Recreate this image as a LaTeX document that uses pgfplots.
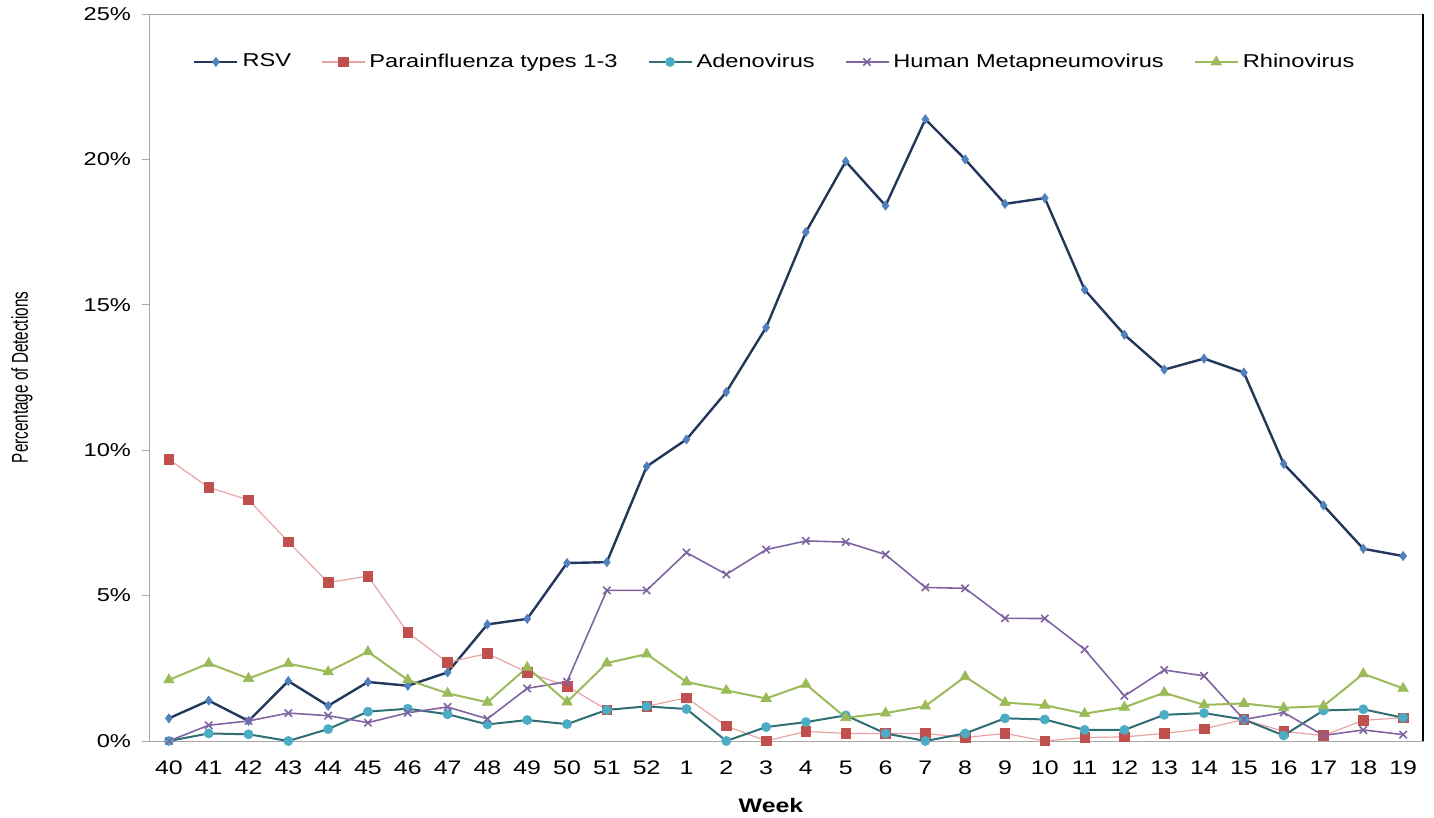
\documentclass[border=0pt]{standalone}
\usepackage{fontspec}
\setmainfont[FakeStretch=1.27]{Liberation Sans}
\newfontfamily\plainf{Liberation Sans}
\usepackage{graphicx}
\usepackage{pgfplots}
\pgfplotsset{compat=1.18}
\definecolor{rsvline}{HTML}{22375A}
\definecolor{rsvmark}{HTML}{4F81BD}
\definecolor{paraline}{HTML}{E8A4A4}
\definecolor{paramark}{HTML}{C0504D}
\definecolor{adenoline}{HTML}{2F6E74}
\definecolor{adenomark}{HTML}{4BACC6}
\definecolor{hmpv}{HTML}{8064A2}
\definecolor{rhino}{HTML}{9BBB59}
\definecolor{axgray}{HTML}{A6A6A6}
\begin{document}
\begin{tikzpicture}
\begin{axis}[
  width=637pt, height=363.5pt, scale only axis,
  xmin=-0.5, xmax=31.5, ymin=0, ymax=25,
  clip=false,
  axis line style={axgray},
  tick pos=left,
  xtick={0,...,31},
  xticklabels={40,41,42,43,44,45,46,47,48,49,50,51,52,1,2,3,4,5,6,7,8,9,10,11,12,13,14,15,16,17,18,19},
  minor xtick={-0.5,0.5,...,31.5},
  ytick={0,5,10,15,20,25},
  yticklabels={0\%,5\%,10\%,15\%,20\%,25\%},
  tick align=outside,
  major tick length=3.5pt, minor tick length=3.5pt,
  xtick style={draw=none},
  ytick style={axgray, thin},
  minor tick style={axgray, thin},
  /pgf/number format/assume math mode=true,
  xticklabel style={font=\fontsize{9.8}{11}\selectfont, yshift=-3pt},
  yticklabel style={font=\fontsize{9.3}{11}\selectfont, xshift=-2pt},
  legend columns=5,
  legend style={draw=none, fill=none, at={(axis description cs:0.492,1)}, anchor=center, yshift=-24pt,
    font=\fontsize{9.3}{11}\selectfont,
    /tikz/every even column/.append style={column sep=13pt}},
  legend image code/.code={\draw[mark repeat=2,mark phase=2,#1] plot coordinates {(0pt,0pt)(10.75pt,0pt)(21.5pt,0pt)};},
]
\addplot[rsvline, line width=1.2pt, mark=diamond*, mark size=2.3pt, mark options={fill=rsvmark, draw=rsvmark, line width=0.3pt}] coordinates {
(0,0.78)(1,1.39)(2,0.69)(3,2.06)(4,1.21)(5,2.03)(6,1.90)(7,2.36)(8,4.01)(9,4.20)(10,6.12)(11,6.15)(12,9.44)(13,10.37)(14,12.00)(15,14.22)(16,17.50)(17,19.93)(18,18.41)(19,21.38)(20,20.00)(21,18.47)(22,18.67)(23,15.52)(24,13.97)(25,12.77)(26,13.15)(27,12.67)(28,9.53)(29,8.10)(30,6.61)(31,6.36)};
\addlegendentry{RSV}
\addplot[paraline, line width=0.6pt, mark=square*, mark size=2.4pt, mark options={fill=paramark, draw=paramark, line width=0.3pt}] coordinates {
(0,9.68)(1,8.72)(2,8.29)(3,6.85)(4,5.45)(5,5.67)(6,3.73)(7,2.70)(8,3.01)(9,2.36)(10,1.89)(11,1.07)(12,1.19)(13,1.49)(14,0.52)(15,0.00)(16,0.33)(17,0.26)(18,0.26)(19,0.26)(20,0.12)(21,0.26)(22,0.00)(23,0.12)(24,0.14)(25,0.26)(26,0.42)(27,0.74)(28,0.33)(29,0.19)(30,0.71)(31,0.80)};
\addlegendentry{Parainfluenza types 1-3}
\addplot[adenoline, line width=1pt, mark=*, mark size=2.3pt, mark options={fill=adenomark, draw=adenomark, line width=0.3pt}] coordinates {
(0,0.00)(1,0.26)(2,0.23)(3,0.00)(4,0.41)(5,1.01)(6,1.11)(7,0.92)(8,0.57)(9,0.72)(10,0.58)(11,1.07)(12,1.19)(13,1.10)(14,0.00)(15,0.48)(16,0.65)(17,0.88)(18,0.26)(19,0.00)(20,0.26)(21,0.78)(22,0.74)(23,0.38)(24,0.38)(25,0.90)(26,0.96)(27,0.74)(28,0.19)(29,1.05)(30,1.09)(31,0.80)};
\addlegendentry{Adenovirus}
\addplot[hmpv, line width=0.8pt, mark=x, mark size=2.6pt, mark options={line width=0.8pt}] coordinates {
(0,0.00)(1,0.54)(2,0.69)(3,0.96)(4,0.87)(5,0.63)(6,0.97)(7,1.17)(8,0.76)(9,1.81)(10,2.04)(11,5.18)(12,5.18)(13,6.48)(14,5.73)(15,6.58)(16,6.88)(17,6.84)(18,6.41)(19,5.28)(20,5.25)(21,4.22)(22,4.21)(23,3.15)(24,1.55)(25,2.44)(26,2.24)(27,0.74)(28,0.98)(29,0.19)(30,0.38)(31,0.22)};
\addlegendentry{Human Metapneumovirus}
\addplot[rhino, line width=1pt, mark=triangle*, mark size=3pt, mark options={fill=rhino, draw=rhino, line width=0.3pt}] coordinates {
(0,2.10)(1,2.67)(2,2.15)(3,2.66)(4,2.38)(5,3.07)(6,2.10)(7,1.64)(8,1.33)(9,2.53)(10,1.34)(11,2.68)(12,2.99)(13,2.03)(14,1.74)(15,1.46)(16,1.95)(17,0.80)(18,0.96)(19,1.20)(20,2.21)(21,1.32)(22,1.23)(23,0.94)(24,1.16)(25,1.66)(26,1.24)(27,1.29)(28,1.14)(29,1.20)(30,2.31)(31,1.81)};
\addlegendentry{Rhinovirus}
\draw[black, line width=0.6pt] (rel axis cs:1,0) -- (rel axis cs:1,1);
\end{axis}
\node[rotate=90] at ([xshift=-63.5pt]current axis.west) {\scalebox{0.7}[1.05]{\plainf\fontsize{10.9}{12}\selectfont Percentage of Detections}};
\node at ([xshift=-7.5pt,yshift=-32pt]current axis.south) {\fontsize{9.8}{11}\selectfont\bfseries Week};
\pgfresetboundingbox
\path ([xshift=-74.5pt,yshift=-38.5pt]current axis.south west) rectangle ([xshift=5.5pt,yshift=7pt]current axis.north east);
\end{tikzpicture}
\end{document}
